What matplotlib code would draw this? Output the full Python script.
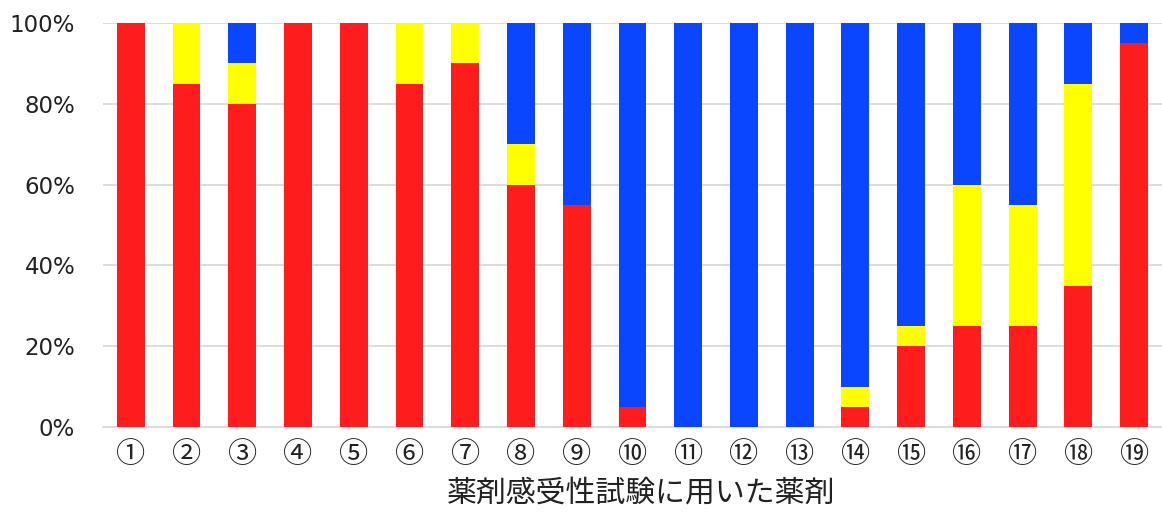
import numpy as np
import matplotlib.pyplot as plt

plt.rcParams['font.family'] = ['DejaVu Sans']

# drug labels (circled numbers)
labels = ['①', '②', '③', '④', '⑤', '⑥', '⑦', '⑧', '⑨', '⑩',
          '⑪', '⑫', '⑬', '⑭', '⑮', '⑯', '⑰', '⑱', '⑲']

# share of isolates per category (%)
red = [100, 85, 80, 100, 100, 85, 90, 60, 55, 5, 0, 0, 0, 5, 20, 25, 25, 35, 95]
yellow = [0, 15, 10, 0, 0, 15, 10, 10, 0, 0, 0, 0, 0, 5, 5, 35, 30, 50, 0]
blue = [0, 0, 10, 0, 0, 0, 0, 30, 45, 95, 100, 100, 100, 90, 75, 40, 45, 15, 5]

RED = '#FF1C1C'
YELLOW = '#FFFF00'
BLUE = '#0A46FF'

fig = plt.figure(figsize=(11.62, 5.12), dpi=100)
ax = fig.add_axes([0.0886, 0.166, 0.9114, 0.789])

x = np.arange(len(labels))
red = np.array(red)
yellow = np.array(yellow)
blue = np.array(blue)
w = 0.5
ax.bar(x, red, w, color=RED, zorder=3)
ax.bar(x, yellow, w, bottom=red, color=YELLOW, zorder=3)
ax.bar(x, blue, w, bottom=red + yellow, color=BLUE, zorder=3)

ax.set_xlim(-0.5, len(labels) - 0.5)
ax.set_ylim(0, 100)
ax.set_yticks(np.arange(0, 101, 20))
ax.set_yticklabels([f'{v}%' for v in range(0, 101, 20)], fontsize=16.5)
ax.set_xticks(x)
ax.set_xticklabels(labels, fontsize=21, family=['Noto Sans CJK JP', 'DejaVu Sans'])
ax.tick_params(axis='both', length=0, colors='#222222')
ax.tick_params(axis='y', pad=20)
ax.tick_params(axis='x', pad=9)
ax.grid(axis='y', color='#D9D9D9', lw=1.3, zorder=0)
for s in ['top', 'right', 'left']:
    ax.spines[s].set_visible(False)
ax.spines['bottom'].set_color('#D9D9D9')
ax.spines['bottom'].set_linewidth(1.3)

ax.set_xlabel('薬剤感受性試験に用いた薬剤', fontsize=21.5,
              family=['Noto Sans CJK JP', 'DejaVu Sans'], color='#222222')
ax.xaxis.set_label_coords(0.508, -0.125)

fig.savefig('out.png', dpi=100)
